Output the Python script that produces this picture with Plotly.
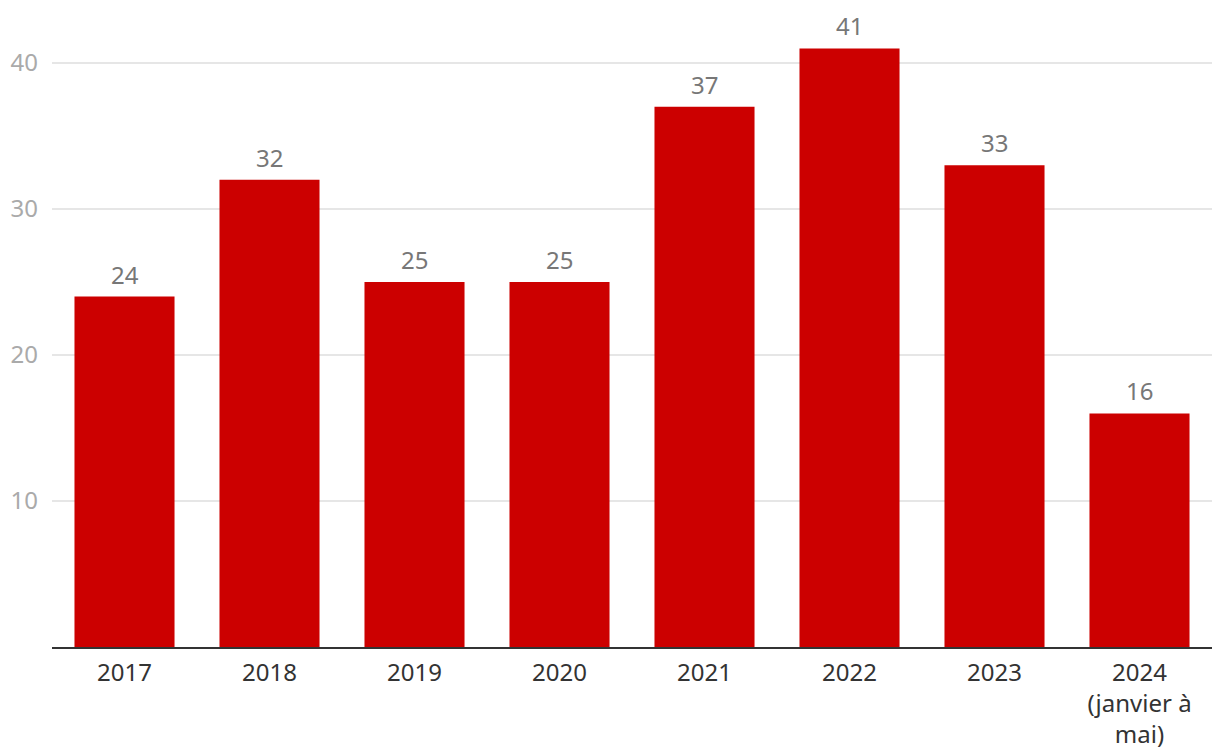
import plotly.graph_objects as go

categories = ["2017", "2018", "2019", "2020", "2021", "2022", "2023", "2024<br>(janvier à<br>mai)"]
values = [24, 32, 25, 25, 37, 41, 33, 16]
y_ticks = [10, 20, 30, 40]

fig = go.Figure(go.Bar(
    x=categories, y=values,
    marker=dict(color="#cc0000", line=dict(width=0)),
    cliponaxis=False,
))

for i, v in enumerate(values):
    fig.add_annotation(
        x=i, y=v, text=str(v), showarrow=False,
        xref="x", yref="y",
        yanchor="bottom", yshift=5, borderpad=0,
        font=dict(color="#777777", size=24, family="Noto Sans"),
    )

fig.update_layout(
    width=1212, height=748,
    margin=dict(l=44, r=8, t=0, b=109),
    plot_bgcolor="white", paper_bgcolor="white",
    bargap=0.31,
    showlegend=False,
    font=dict(family="Noto Sans", size=24, color="#333333"),
)
fig.update_yaxes(
    range=[0, 43.77], tickvals=y_ticks,
    showgrid=True, gridcolor="#e6e6e6", gridwidth=1.5,
    zeroline=False, showline=False,
    tickfont=dict(color="#aaaaaa", size=24),
    ticks="", ticklabelstandoff=13, automargin=False,
)
fig.update_xaxes(
    type="category", range=[-0.5, len(categories) - 0.5],
    showline=True, linecolor="#333333", linewidth=2,
    ticks="", tickfont=dict(color="#333333", size=24),
    automargin=False, ticklabelstandoff=3,
)

fig.write_html("out.html")
